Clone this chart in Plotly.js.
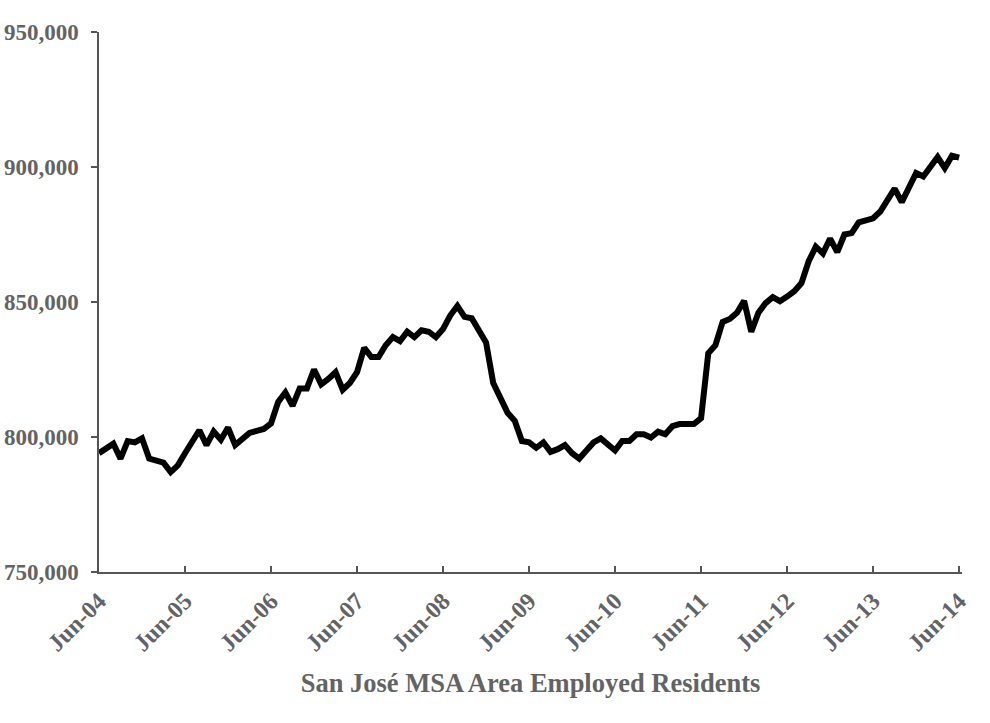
<!DOCTYPE html>
<html>
<head>
<meta charset="utf-8">
<script src="https://cdn.plot.ly/plotly-3.0.1.min.js"></script>
<style>html,body{margin:0;padding:0;background:#fff;}#chart{width:990px;height:723px;}</style>
</head>
<body>
<div id="chart"></div>
<script>
// Monthly employed residents, Jun-2004 .. Jun-2014 (thousands)
const employedK = [
  794, 796, 797.5, 792, 798.5, 798, 799.5, 792, 791.5, 790.5, 787, 789.5,
  794, 798, 802.5, 797, 802, 799, 803.5, 797, 799, 801.5, 802.3, 803,
  805, 813, 816.5, 811.5, 818, 818, 825, 819.5, 821.5, 824, 817.5, 820,
  824, 833, 829.6, 829.6, 834, 837, 835.5, 839, 837, 839.5, 839, 837,
  840, 845, 848.5, 844.5, 844, 840, 835, 820, 815, 809, 806, 798.5,
  798, 796, 798, 794.5, 795.5, 797, 794, 792, 795, 798, 799.5, 797,
  795, 798.5, 798.5, 801, 801, 799.8, 802, 801, 804, 804.8, 804.8, 804.8,
  807, 831, 834, 842.6, 843.7, 846, 850.4, 839, 846, 849.6, 851.8, 850.3,
  852, 854, 857, 865, 870.5, 868, 873.5, 868.5, 875, 875.5, 879.5, 880.5,
  881, 883.5, 887.8, 892, 887, 892.5, 897.8, 896.5, 900, 903.7, 899.6, 904.2,
  903.5
];
const tickLabels = ["Jun-04","Jun-05","Jun-06","Jun-07","Jun-08","Jun-09","Jun-10","Jun-11","Jun-12","Jun-13","Jun-14"];
const yTicks = [750000, 800000, 850000, 900000, 950000];
const xTitle = "San José MSA Area Employed Residents";

const monthIndex = employedK.map((_, i) => i);
const values = employedK.map(v => v * 1000);
const tickVals = tickLabels.map((_, i) => i * 12);

const fontFam = '"Liberation Serif", "DejaVu Serif", serif';
const gray = '#636363';

const trace = {
  x: monthIndex, y: values, type: 'scatter', mode: 'lines',
  line: {color: '#000000', width: 6},
  hoverinfo: 'skip'
};

const layout = {
  width: 990, height: 723,
  margin: {l: 99, r: 28, t: 32, b: 151},
  paper_bgcolor: '#ffffff', plot_bgcolor: '#ffffff',
  showlegend: false,
  xaxis: {
    range: [0, 120.4],
    tickvals: tickVals, ticktext: tickLabels,
    tickangle: -45,
    ticks: 'inside', ticklen: 6, tickcolor: '#555555', tickwidth: 1.3,
    showline: true, linecolor: '#555555', linewidth: 1.6,
    showgrid: false, zeroline: false,
    tickfont: {family: fontFam, size: 24, color: gray, weight: 'bold'},
    ticklabelstandoff: 4,
    title: {text: xTitle, font: {family: fontFam, size: 26.5, color: gray, weight: 'bold'}, standoff: 18}
  },
  yaxis: {
    range: [750000, 950000],
    tickvals: yTicks,
    tickformat: ',d',
    ticks: 'outside', ticklen: 6, tickcolor: '#555555', tickwidth: 1.3,
    showline: true, linecolor: '#555555', linewidth: 1.6,
    showgrid: false, zeroline: false,
    tickfont: {family: fontFam, size: 23, color: gray, weight: 'bold'},
    ticklabelstandoff: 8
  }
};

Plotly.newPlot('chart', [trace], layout, {staticPlot: true, displayModeBar: false});
</script>
</body>
</html>
